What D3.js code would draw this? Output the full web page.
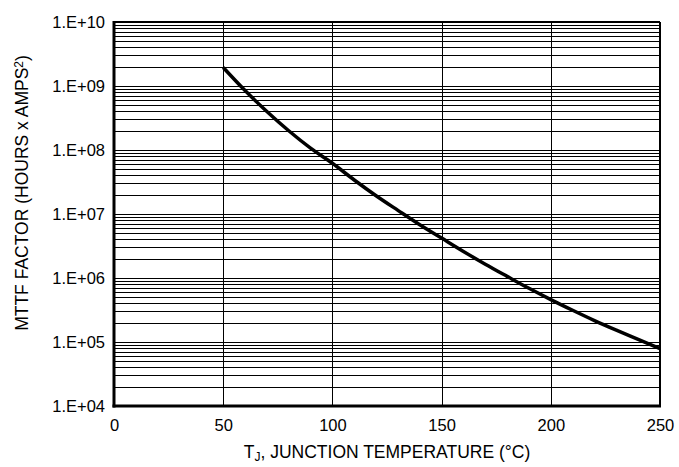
<!DOCTYPE html>
<html>
<head>
<meta charset="utf-8">
<script src="https://cdn.jsdelivr.net/npm/d3@7"></script>
<style>
  body { margin: 0; background: #fff; }
  text { font-family: "Liberation Sans", Arial, Helvetica, sans-serif; fill: #000; }
</style>
</head>
<body>
<svg id="chart" width="679" height="467"></svg>
<script>
// junction temperature (deg C) and MTTF factor
var temps = [50, 60, 70, 80, 90, 100, 110, 120, 130, 140, 150,
             160, 170, 180, 190, 200, 210, 220, 230, 240, 250];
var mttf = [1.95e9, 8.5e8, 4.0e8, 2.0e8, 1.07e8, 6.2e7, 3.4e7, 1.93e7, 1.14e7, 6.8e6, 4.2e6,
            2.6e6, 1.64e6, 1.06e6, 6.9e5, 4.6e5, 3.13e5, 2.16e5, 1.53e5, 1.1e5, 7.9e4];
var xTicks = [0, 50, 100, 150, 200, 250];
var yTicks = [1e4, 1e5, 1e6, 1e7, 1e8, 1e9, 1e10];
var yTickLabels = ["1.E+04", "1.E+05", "1.E+06", "1.E+07", "1.E+08", "1.E+09", "1.E+10"];

var margin = {top: 22, right: 19, bottom: 61, left: 114},
    width = 679 - margin.left - margin.right,
    height = 467 - margin.top - margin.bottom;

var svg = d3.select('#chart');
var g = svg.append('g')
    .attr('transform', 'translate(' + margin.left + ',' + margin.top + ')');

var x = d3.scaleLinear().domain([0, 250]).range([0, width]);
var y = d3.scaleLog().domain([1e4, 1e10]).range([height, 0]);

// minor log grid: 2..9 in every decade, plus the decades
var minor = [];
for (var e = 4; e < 10; e++) {
    for (var m = 2; m <= 9; m++) minor.push(m * Math.pow(10, e));
}
var hLines = minor.concat(yTicks.slice(1, -1));

g.selectAll('line.hgrid')
    .data(hLines)
  .enter().append('line')
    .attr('class', 'hgrid')
    .attr('x1', 0).attr('x2', width)
    .attr('y1', function(d) { return Math.round(y(d)) + 0.5; })
    .attr('y2', function(d) { return Math.round(y(d)) + 0.5; })
    .attr('stroke', '#000')
    .attr('stroke-width', 1);

g.selectAll('line.vgrid')
    .data(xTicks.slice(1, -1))
  .enter().append('line')
    .attr('class', 'vgrid')
    .attr('x1', function(d) { return Math.round(x(d)) + 0.5; })
    .attr('x2', function(d) { return Math.round(x(d)) + 0.5; })
    .attr('y1', 0).attr('y2', height)
    .attr('stroke', '#000')
    .attr('stroke-width', 1);

// frame
g.append('line').attr('x1', 0).attr('x2', width).attr('y1', 0).attr('y2', 0)
    .attr('stroke', '#000').attr('stroke-width', 2);
g.append('line').attr('x1', width).attr('x2', width).attr('y1', 0).attr('y2', height)
    .attr('stroke', '#000').attr('stroke-width', 2);
g.append('line').attr('x1', 0).attr('x2', 0).attr('y1', -1).attr('y2', height + 1.5)
    .attr('stroke', '#000').attr('stroke-width', 3);
g.append('line').attr('x1', -1.5).attr('x2', width + 1).attr('y1', height).attr('y2', height)
    .attr('stroke', '#000').attr('stroke-width', 3);

// axes (labels only, lines are drawn above)
var xAxis = g.append('g')
    .attr('transform', 'translate(0,' + height + ')')
    .call(d3.axisBottom(x).tickValues(xTicks).tickSize(0).tickPadding(13));
var yAxis = g.append('g')
    .call(d3.axisLeft(y).tickValues(yTicks).tickSize(0).tickPadding(9)
          .tickFormat(function(d, i) { return yTickLabels[i]; }));
[xAxis, yAxis].forEach(function(a) {
    a.select('.domain').remove();
    a.selectAll('text')
        .style('font-family', '"Liberation Sans", Arial, sans-serif')
        .style('font-size', '16.5px')
        .attr('fill', '#000');
});

// curve
var line = d3.line()
    .x(function(d, i) { return x(temps[i]); })
    .y(function(d) { return y(d); })
    .curve(d3.curveMonotoneX);

g.append('path')
    .datum(mttf)
    .attr('d', line)
    .attr('fill', 'none')
    .attr('stroke', '#000')
    .attr('stroke-width', 3.5);

// axis titles
var xt = svg.append('text')
    .attr('x', margin.left + width / 2)
    .attr('y', 458)
    .attr('text-anchor', 'middle')
    .style('font-size', '17.5px');
xt.append('tspan').text('T');
xt.append('tspan').attr('baseline-shift', '-25%').style('font-size', '12px').text('J');
xt.append('tspan').text(', JUNCTION TEMPERATURE (\u00B0C)');

var yt = svg.append('text')
    .attr('transform', 'translate(28,193) rotate(-90)')
    .attr('text-anchor', 'middle')
    .style('font-size', '17.5px');
yt.append('tspan').text('MTTF FACTOR (HOURS x AMPS');
yt.append('tspan').attr('baseline-shift', '40%').style('font-size', '12px').text('2');
yt.append('tspan').text(')');
</script>
</body>
</html>
